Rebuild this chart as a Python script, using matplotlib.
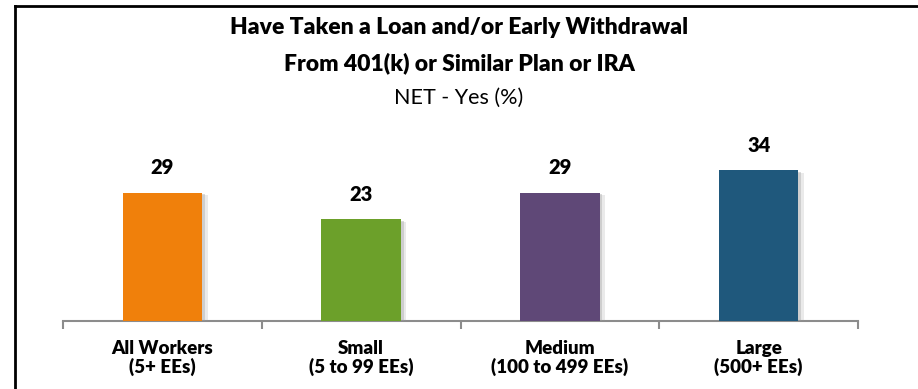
import matplotlib
matplotlib.use("Agg")
import matplotlib.pyplot as plt
import matplotlib.patheffects as pe
from matplotlib.lines import Line2D

categories = ["All Workers\n(5+ EEs)", "Small\n(5 to 99 EEs)",
              "Medium\n(100 to 499 EEs)", "Large\n(500+ EEs)"]
values = [29, 23, 29, 34]
colors = ["#F0800B", "#6CA02A", "#5F4877", "#1F587C"]

title_lines = ["Have Taken a Loan and/or Early Withdrawal",
               "From 401(k) or Similar Plan or IRA"]
subtitle = "NET - Yes (%)"

W, H = 918, 389
fig = plt.figure(figsize=(W / 100, H / 100), dpi=100)
fig.patch.set_facecolor("white")

font = "Lato"
heavy = 800

# axes: x from 63 to 858 px, baseline at y=321 px
ax_left, ax_right = 63 / W, 858 / W
ax_bottom = 1 - 321 / H
ax_top = 1 - 143 / H
ax = fig.add_axes([ax_left, ax_bottom, ax_right - ax_left, ax_top - ax_bottom])
ax.set_xlim(-0.5, len(values) - 0.5)
ax.set_ylim(0, 40.2)

x = range(len(values))
bars = ax.bar(x, values, width=0.40, color=colors, zorder=3)
for b in bars:
    b.set_path_effects([
        pe.SimplePatchShadow(offset=(4, -2), shadow_rgbFace="#9a9a9a", alpha=0.2),
        pe.SimplePatchShadow(offset=(2, -1), shadow_rgbFace="#9a9a9a", alpha=0.35),
        pe.Normal()])

for xi, v in zip(x, values):
    ax.annotate(str(v), (xi, v), xytext=(0, 11), textcoords="offset points",
                ha="center", va="bottom", fontsize=14.5, fontweight=heavy,
                family=font, color="black")

for s in ["top", "right", "left"]:
    ax.spines[s].set_visible(False)
ax.spines["bottom"].set_color("#8C8C8C")
ax.spines["bottom"].set_linewidth(1.5)
ax.set_yticks([])
ax.set_xticks([i - 0.5 for i in range(len(values) + 1)], minor=False)
ax.set_xticklabels([])
ax.tick_params(axis="x", which="major", length=6, width=1.5, color="#8C8C8C", direction="out")
ax.set_xticks(list(x), minor=True)
ax.set_xticklabels(categories, minor=True, fontsize=13.5, fontweight=heavy,
                   family=font, linespacing=1.0)
ax.tick_params(axis="x", which="minor", length=0, pad=14)

# titles
fig.text(0.5, 1 - 27 / H, title_lines[0], ha="center", va="center",
         fontsize=16.5, fontweight=heavy, family=font)
fig.text(0.5, 1 - 63 / H, title_lines[1], ha="center", va="center",
         fontsize=16.5, fontweight=heavy, family=font)
fig.text(0.5, 1 - 98 / H, subtitle, ha="center", va="center",
         fontsize=15.5, family=font)

# frame on left and top
fig.add_artist(Line2D([15 / W, 15 / W], [0, 1 - 5.5 / H], color="black", lw=2,
                      transform=fig.transFigure))
fig.add_artist(Line2D([15 / W, 1], [1 - 5.5 / H, 1 - 5.5 / H], color="black", lw=2,
                      transform=fig.transFigure))

fig.savefig("out.png", dpi=100)
